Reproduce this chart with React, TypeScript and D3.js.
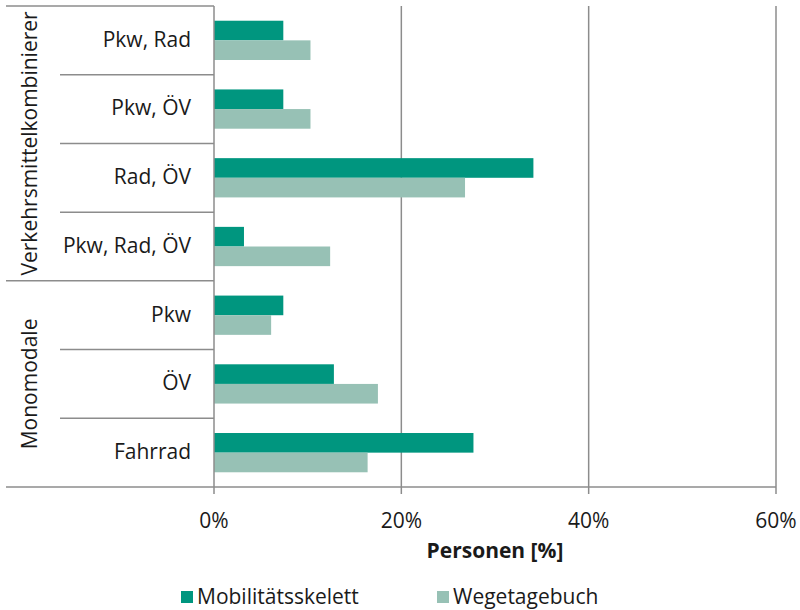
import React, { useRef, useEffect } from 'react';
import * as d3 from 'd3';

const categories = ['Pkw, Rad', 'Pkw, ÖV', 'Rad, ÖV', 'Pkw, Rad, ÖV', 'Pkw', 'ÖV', 'Fahrrad'];
const groups = [
  { name: 'Verkehrsmittelkombinierer', from: 0, to: 3 },
  { name: 'Monomodale', from: 4, to: 6 },
];
const seriesNames = ['Mobilitätsskelett', 'Wegetagebuch'];
const mobilitaet = [7.4, 7.4, 34.1, 3.2, 7.4, 12.8, 27.7];
const wegetagebuch = [10.3, 10.3, 26.8, 12.4, 6.1, 17.5, 16.4];
const xTicks = [0, 20, 40, 60];
const colors = ['#00967f', '#97c1b5'];

const W = 800;
const H = 610;
const font = '"Open Sans", sans-serif';
const fs = 21;
const gridColor = '#8c8c8c';

const App = () => {
  const ref = useRef<SVGSVGElement>(null);

  useEffect(() => {
    if (!ref.current) return;
    const svg = d3.select(ref.current);
    svg.selectAll('*').remove();

    const left = 214, right = 776, top = 6, bottom = 487;
    const outerLeft = 6, labelLeft = 60;

    const x = d3.scaleLinear().domain([0, 60]).range([left, right]);
    const y = d3.scaleBand<string>().domain(categories).range([top, bottom]).padding(0);
    const inner = d3.scaleBand<string>().domain(seriesNames).range([0, y.bandwidth()]).paddingInner(0).paddingOuter(0.75);

    // gridlines
    svg.append('g').selectAll('line')
      .data(xTicks.slice(1))
      .enter().append('line')
      .attr('x1', d => x(d)).attr('x2', d => x(d))
      .attr('y1', top).attr('y2', bottom + 7)
      .attr('stroke', gridColor).attr('stroke-width', 1.5);

    // x axis line
    svg.append('line')
      .attr('x1', left).attr('x2', right).attr('y1', bottom).attr('y2', bottom)
      .attr('stroke', gridColor).attr('stroke-width', 1.5);

    // bars
    const values = [mobilitaet, wegetagebuch];
    values.forEach((vals, si) => {
      svg.append('g').selectAll('rect')
        .data(vals)
        .enter().append('rect')
        .attr('x', x(0))
        .attr('y', (d, i) => (y(categories[i]) as number) + (inner(seriesNames[si]) as number))
        .attr('width', d => x(d) - x(0))
        .attr('height', inner.bandwidth())
        .attr('fill', colors[si]);
    });

    // y axis line
    svg.append('line')
      .attr('x1', left).attr('x2', left).attr('y1', top).attr('y2', bottom + 7)
      .attr('stroke', gridColor).attr('stroke-width', 1.5);

    // category separators
    const bounds = categories.map(c => y(c) as number).concat([bottom]);
    svg.append('g').selectAll('line')
      .data(bounds)
      .enter().append('line')
      .attr('x1', (d, i) => {
        const isGroupEdge = i === 0 || i === bounds.length - 1 || groups.some(g => g.from === i);
        return isGroupEdge ? outerLeft : labelLeft;
      })
      .attr('x2', left)
      .attr('y1', d => d).attr('y2', d => d)
      .attr('stroke', gridColor).attr('stroke-width', 1.5);

    // category labels
    svg.append('g').selectAll('text')
      .data(categories)
      .enter().append('text')
      .attr('x', 191)
      .attr('y', d => (y(d) as number) + y.bandwidth() / 2 - 1)
      .attr('dy', '0.35em')
      .attr('text-anchor', 'end')
      .attr('font-family', font)
      .attr('font-size', fs)
      .attr('fill', '#1a1a1a')
      .text(d => d);

    // group labels
    groups.forEach(g => {
      const y0 = y(categories[g.from]) as number;
      const y1 = (y(categories[g.to]) as number) + y.bandwidth();
      const cy = (y0 + y1) / 2;
      svg.append('text')
        .attr('transform', `translate(30, ${cy}) rotate(-90)`)
        .attr('dy', '0.35em')
        .attr('text-anchor', 'middle')
        .attr('font-family', font)
        .attr('font-size', fs)
        .attr('fill', '#1a1a1a')
        .text(g.name);
    });

    // x tick labels
    svg.append('g').selectAll('text')
      .data(xTicks)
      .enter().append('text')
      .attr('x', d => x(d))
      .attr('y', 521)
      .attr('dy', '0.35em')
      .attr('text-anchor', 'middle')
      .attr('font-family', font)
      .attr('font-size', fs)
      .attr('fill', '#1a1a1a')
      .text(d => `${d}%`);

    svg.append('text')
      .attr('x', x(30))
      .attr('y', 551)
      .attr('dy', '0.35em')
      .attr('text-anchor', 'middle')
      .attr('font-family', font)
      .attr('font-size', fs)
      .attr('font-weight', 'bold')
      .attr('fill', '#1a1a1a')
      .text('Personen [%]');

    // legend
    const legendX = [181, 437];
    seriesNames.forEach((s, i) => {
      svg.append('rect')
        .attr('x', legendX[i]).attr('y', 591)
        .attr('width', 12).attr('height', 12)
        .attr('fill', colors[i]);
      svg.append('text')
        .attr('x', legendX[i] + 16).attr('y', 597)
        .attr('dy', '0.35em')
        .attr('font-family', font)
        .attr('font-size', fs)
        .attr('fill', '#1a1a1a')
        .text(s);
    });
  }, []);

  return (
    <svg ref={ref} width={W} height={H} style={{ position: 'absolute', left: 0, top: 0, background: '#fff' }} />
  );
};

export default App;
